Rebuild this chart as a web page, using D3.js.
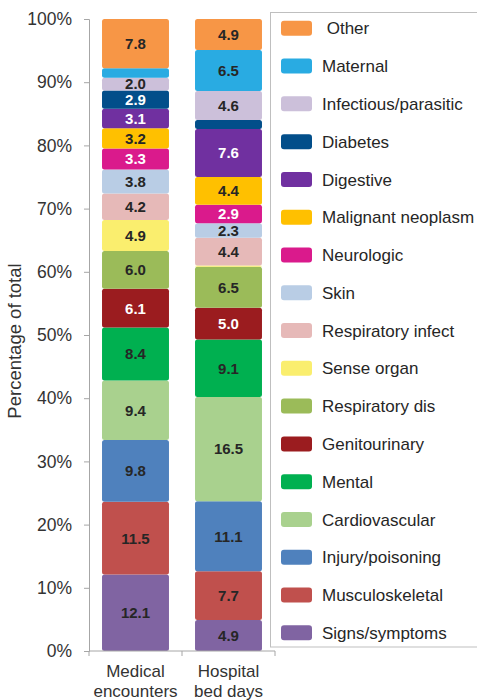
<!DOCTYPE html>
<html><head><meta charset="utf-8">
<script src="https://cdn.jsdelivr.net/npm/d3@7"></script>
<style>
html,body{margin:0;padding:0;background:#fff;}
svg{display:block;font-family:"Liberation Sans",Arial,sans-serif;}
</style></head>
<body><svg id="chart" width="477" height="700"></svg>
<script>
// Stack order bottom -> top
const categories = ["Signs/symptoms","Musculoskeletal","Injury/poisoning","Cardiovascular","Mental","Genitourinary","Respiratory dis","Sense organ","Respiratory infect","Skin","Neurologic","Malignant neoplasm","Digestive","Diabetes","Infectious/parasitic","Maternal","Other"];
const groups = ["Medical\nencounters","Hospital\nbed days"];
const medicalEncounters = [12.1,11.5,9.8,9.4,8.4,6.1,6.0,4.9,4.2,3.8,3.3,3.2,3.1,2.9,2.0,1.5,7.8];
const hospitalBedDays   = [4.9,7.7,11.1,16.5,9.1,5.0,6.5,0.2,4.4,2.3,2.9,4.4,7.6,1.4,4.6,6.5,4.9];
const colors = ["#8064A2","#C0504D","#4F81BD","#A9D18E","#00B050","#9B1C1F","#9BBB59","#FAEE6E","#E6B9B8","#B9CDE5","#DA1A8C","#FFC000","#7030A0","#024E8A","#CCC0DA","#29ABE2","#F79646"];
const whiteLabel = ["Genitourinary","Neurologic","Digestive","Diabetes"];
const yTicks = [0,10,20,30,40,50,60,70,80,90,100];

const FONT = "Liberation Sans, Arial, sans-serif";
const svg = d3.select("#chart");
const m = {left:89, right:275, top:19, bottom:651};

const x = d3.scaleBand().domain(groups).range([m.left, m.right]).paddingInner(0.28).paddingOuter(0.14);
const y = d3.scaleLinear().domain([0,100]).range([m.bottom, m.top]);
const color = d3.scaleOrdinal().domain(categories).range(colors);

const stacks = groups.map((g,gi)=>{
  const vals = gi===0?medicalEncounters:hospitalBedDays;
  let acc = 0;
  return categories.map((c,i)=>{ const y0=acc; acc+=vals[i]; return {group:g, cat:c, v:vals[i], y0, y1:acc}; });
});

const segs = svg.append("g").selectAll("g").data(stacks).join("g");
segs.selectAll("rect").data(d=>d).join("rect")
  .attr("x", d=>x(d.group))
  .attr("width", x.bandwidth())
  .attr("y", d=>y(d.y1))
  .attr("height", d=>y(d.y0)-y(d.y1))
  .attr("rx", 2.5)
  .attr("fill", d=>color(d.cat));

segs.selectAll("text").data(d=>d.filter(s=>s.v>=2)).join("text")
  .attr("x", d=>x(d.group)+x.bandwidth()/2)
  .attr("y", d=>y((d.y0+d.y1)/2))
  .attr("dy","0.36em")
  .attr("text-anchor","middle")
  .attr("font-size","15px")
  .attr("font-weight","bold")
  .attr("fill", d=>whiteLabel.includes(d.cat)?"#ffffff":"#262626")
  .text(d=>d.v.toFixed(1));

// Y axis
const yAxis = svg.append("g").attr("transform",`translate(${m.left},0)`)
  .call(d3.axisLeft(y).tickValues(yTicks).tickFormat(d=>d+"%").tickSizeOuter(0).tickSize(5).tickPadding(12));
yAxis.attr("font-family", FONT);
yAxis.select(".domain").attr("stroke","#a6a6a6");
yAxis.selectAll(".tick line").attr("stroke","#a6a6a6");
yAxis.selectAll(".tick text").attr("font-size","17.5px").attr("fill","#333");

// X axis
const xAxis = svg.append("g").attr("transform",`translate(0,${m.bottom})`)
  .call(d3.axisBottom(x).tickSize(0).tickFormat(""));
xAxis.attr("font-family", FONT);
xAxis.select(".domain").attr("stroke","#a6a6a6").attr("d",`M${m.left},0H${m.right}`);
const bounds = [m.left, (m.left+m.right)/2, m.right];
xAxis.selectAll(".sep").data(bounds).join("line").attr("class","sep")
  .attr("x1",d=>d).attr("x2",d=>d).attr("y1",0).attr("y2",5).attr("stroke","#a6a6a6");
xAxis.selectAll(".tick").each(function(g){
  const t = d3.select(this).append("text").attr("text-anchor","middle").attr("font-size","17px").attr("fill","#333");
  g.split("\n").forEach((line,i)=>{
    t.append("tspan").attr("x",0).attr("y",26+i*20).text(line);
  });
});

// Y title
svg.append("text")
  .attr("transform",`translate(21,${(m.top+m.bottom)/2+6}) rotate(-90)`)
  .attr("text-anchor","middle").attr("font-size","18.5px").attr("fill","#333")
  .text("Percentage of total");

// Legend
const legend = svg.append("g");
legend.append("rect").attr("x",270.5).attr("y",12.5).attr("width",210).attr("height",634.5)
  .attr("fill","none").attr("stroke","#bfbfbf");
const legendCats = categories.slice().reverse();
const ly = d3.scalePoint().domain(legendCats).range([28.3, 632.8]);
const li = legend.selectAll("g.li").data(legendCats).join("g").attr("class","li")
  .attr("transform",d=>`translate(0,${ly(d)})`);
li.append("rect").attr("x",281).attr("y",-7.5).attr("width",31).attr("height",15).attr("rx",3).attr("fill",d=>color(d));
li.append("text").attr("x",322).attr("dy","0.36em").attr("font-size","17px").attr("fill","#262626")
  .style("white-space","pre")
  .text(d=>d==="Other"?" "+d:d);
</script></body></html>
